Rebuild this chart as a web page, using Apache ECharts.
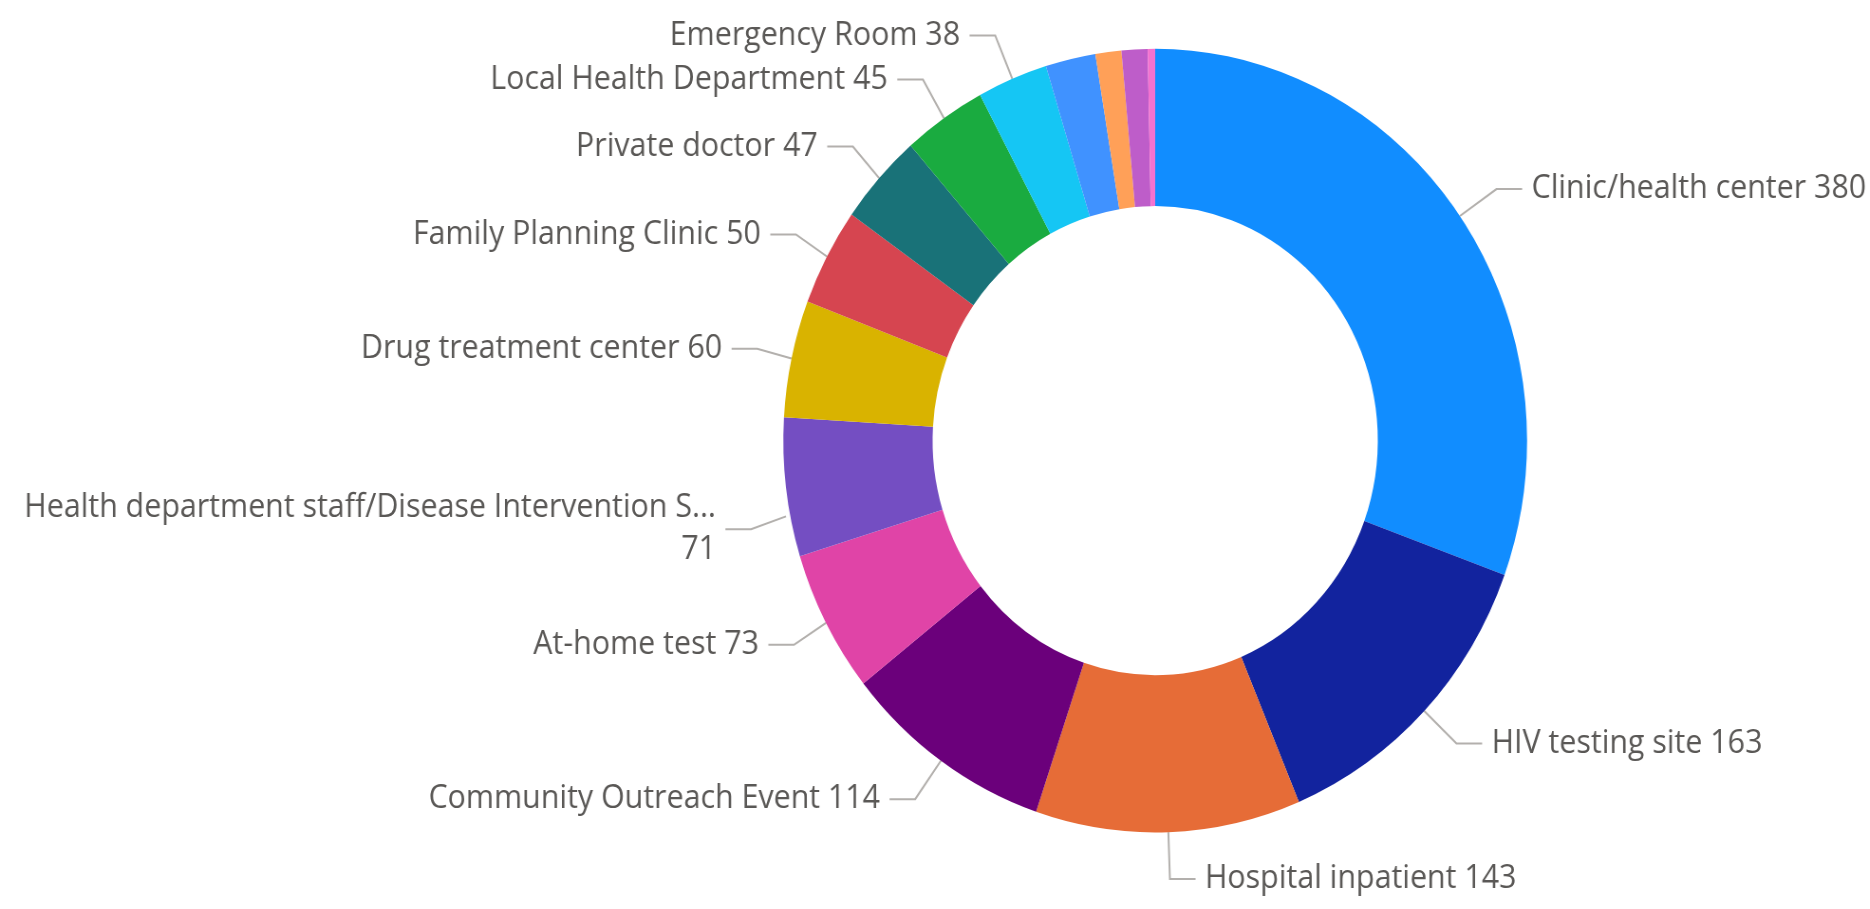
<!DOCTYPE html>
<html>
<head>
<meta charset="utf-8">
<script src="https://cdn.jsdelivr.net/npm/echarts@6/dist/echarts.min.js"></script>
<style>
  html, body { margin: 0; padding: 0; background: #ffffff; overflow: hidden; width: 1870px; height: 909px; }
  #chart { width: 1970px; height: 909px; transform: scaleX(0.9492); transform-origin: 0 0; }
</style>
</head>
<body>
<div id="chart"></div>
<script>
const categories = [
  'Clinic/health center',
  'HIV testing site',
  'Hospital inpatient',
  'Community Outreach Event',
  'At-home test',
  'Health department staff/Disease Intervention Specialist',
  'Drug treatment center',
  'Family Planning Clinic',
  'Private doctor',
  'Local Health Department',
  'Emergency Room',
  'Other 1',
  'Other 2',
  'Other 3',
  'Other 4'
];
const values = [380, 163, 143, 114, 73, 71, 60, 50, 47, 45, 38, 27, 14, 14, 4];
const labelledCount = 11;
const palette = ['#118DFF', '#12239E', '#E66C37', '#6B007B', '#E044A7', '#744EC2', '#D9B300',
  '#D64550', '#197278', '#1AAB40', '#15C6F4', '#4092FF', '#FFA058', '#BE5DC9', '#F472D0'];

const maxNameLen = 46;
const data = categories.map((name, i) => {
  const item = { name: name, value: values[i], itemStyle: { color: palette[i] } };
  if (i >= labelledCount) {
    item.label = { show: false };
    item.labelLine = { show: false };
  }
  return item;
});

const wrappedShift = 36;

const chart = echarts.init(document.getElementById('chart'), null, { renderer: 'canvas' });
chart.setOption({
  animation: false,
  backgroundColor: '#ffffff',
  series: [{
    type: 'pie',
    center: [1217, 440.6],
    radius: ['51.6%', '86.2%'],
    startAngle: 90,
    clockwise: true,
    avoidLabelOverlap: true,
    data: data,
    itemStyle: { borderWidth: 0 },
    label: {
      show: true,
      position: 'outside',
      fontFamily: 'Open Sans',
      fontSize: 32,
      color: '#5A5856',
      lineHeight: 42,
      overflow: 'none',
      distanceToLabelLine: 10,
      formatter: function (p) {
        const n = p.name;
        if (n.length > maxNameLen) {
          return n.slice(0, maxNameLen) + '...\n' + p.value;
        }
        return n + ' ' + p.value;
      }
    },
    labelLine: {
      show: true,
      length: 47,
      length2: 27,
      lineStyle: { color: '#B3B0AD', width: 2 }
    },
    labelLayout: function (params) {
      if (categories[params.dataIndex].length > maxNameLen && params.labelLinePoints) {
        const pts = params.labelLinePoints.map(function (p) { return [p[0], p[1]]; });
        pts[0][1] += wrappedShift * 0.8;
        pts[1][1] += wrappedShift;
        pts[2][1] += wrappedShift;
        return { dy: wrappedShift, labelLinePoints: pts };
      }
      return {};
    },
    emphasis: { disabled: true }
  }]
});
</script>
</body>
</html>
